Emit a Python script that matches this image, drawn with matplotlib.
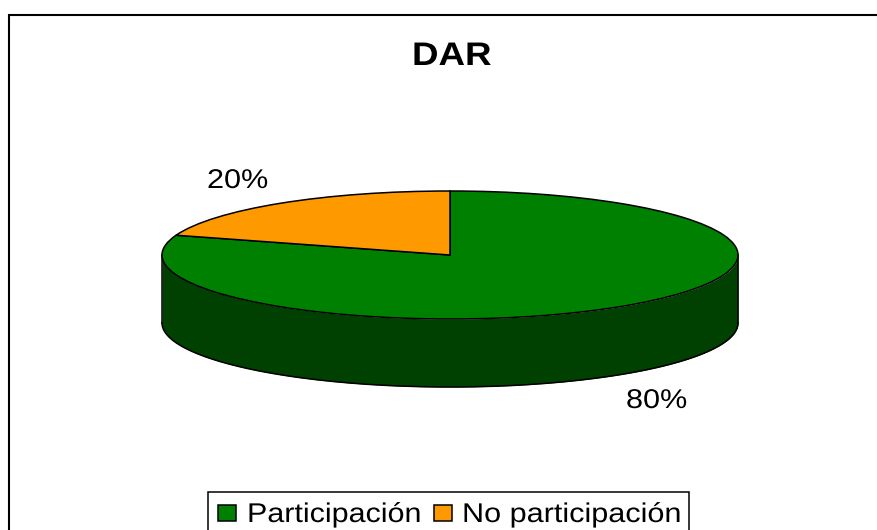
import numpy as np
import matplotlib
matplotlib.use("Agg")
import matplotlib.pyplot as plt
from matplotlib.patches import Rectangle
from matplotlib.patheffects import AbstractPathEffect
from matplotlib.transforms import Affine2D

labels = ["Participación", "No participación"]
values = [80, 20]
pct_labels = ["80%", "20%"]
colors = ["#008000", "#FF9900"]
side_color = "#004000"

W, H = 877, 530
plt.rcParams['font.family'] = ['Liberation Sans', 'DejaVu Sans']
fig = plt.figure(figsize=(W / 100, H / 100), dpi=100)


# the original text is stretched sideways, widen the glyphs from their left anchor
class Widen(AbstractPathEffect):
	def __init__(self, sx):
		super().__init__()
		self.sx = sx

	def draw_path(self, renderer, gc, tpath, affine, rgbFace=None):
		renderer.draw_path(gc, tpath, Affine2D().scale(self.sx, 1) + affine, rgbFace)


def wide_text(x, y, s, size, sx, **kw):
	return bg.text(x, y, s, fontsize=size, ha="left", va="baseline", zorder=6,
		path_effects=[Widen(sx)], **kw)


# whole figure in pixel coords for frame and text
bg = fig.add_axes([0, 0, 1, 1])
bg.set_xlim(0, W)
bg.set_ylim(H, 0)
bg.axis("off")
# frame runs off the right and bottom of the image
bg.add_patch(Rectangle((9, 15), 900, 560, fc="white", ec="black", lw=1.5))

cx, cy, rx, ry, depth = 450, 255, 288, 64, 68

# side wall
t = np.linspace(np.pi, 2 * np.pi, 200)
xs = cx + rx * np.cos(t)
ytop = cy - ry * np.sin(t)
bg.fill_between(xs, ytop, ytop + depth, color=side_color, lw=0, zorder=2)
bg.plot(xs, ytop + depth, color="black", lw=1.1, zorder=3)
bg.plot([cx - rx, cx - rx], [cy, cy + depth], color="black", lw=1.1, zorder=3)
bg.plot([cx + rx, cx + rx], [cy, cy + depth], color="black", lw=1.1, zorder=3)

# top face
top = fig.add_axes([(cx - rx) / W, 1 - (cy + ry) / H, 2 * rx / W, 2 * ry / H])
top.patch.set_alpha(0)
top.pie(values, colors=colors, startangle=90, counterclock=False, radius=1,
	wedgeprops=dict(edgecolor="black", linewidth=1.1))
top.set_aspect("auto")
top.set_xlim(-1, 1)
top.set_ylim(-1, 1)

wide_text(412, 65, "DAR", 23.5, 1.125, fontweight="bold")
wide_text(626, 408, pct_labels[0], 19.5, 1.13)
wide_text(207, 188, pct_labels[1], 19.5, 1.13)

# legend box
bg.add_patch(Rectangle((208, 492), 481, 40, fc="white", ec="black", lw=1.1, zorder=4, clip_on=False))
bg.add_patch(Rectangle((217.5, 504.5), 18, 16, fc=colors[0], ec="black", lw=1.1, zorder=5))
wide_text(247, 522, labels[0], 19.5, 1.125)
bg.add_patch(Rectangle((433.5, 504.5), 18, 16, fc=colors[1], ec="black", lw=1.1, zorder=5))
wide_text(462, 522, labels[1], 19.5, 1.13)

fig.savefig("out.png", dpi=100)
